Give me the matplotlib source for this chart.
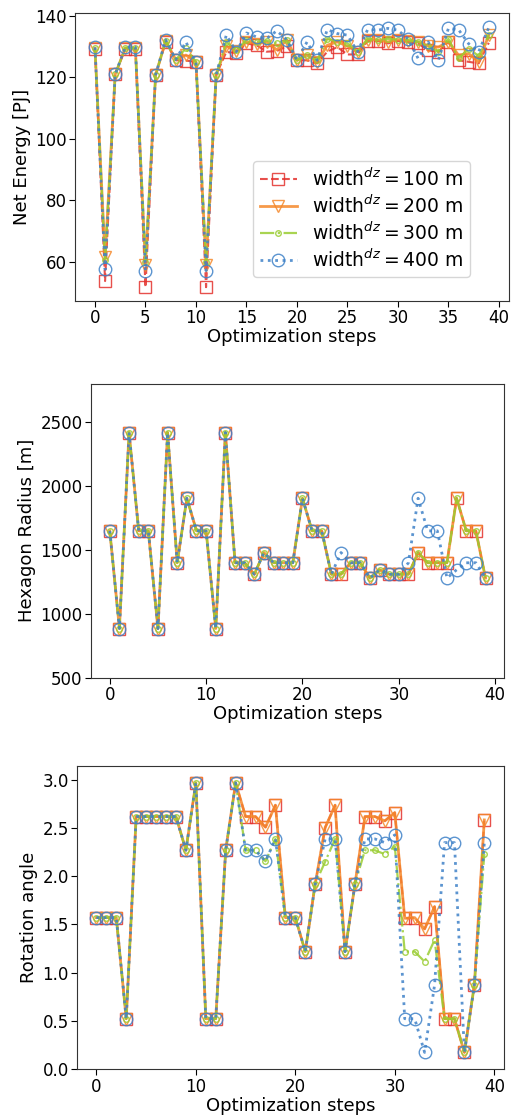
import matplotlib
matplotlib.use("Agg")
import matplotlib.pyplot as plt
import numpy as np

steps = list(range(40))
widths = [100, 200, 300, 400]

energy_100 = [129.2, 53.7, 121.0, 129.4, 129.4, 51.7, 120.8, 131.6, 125.6, 125.5,
              125.1, 51.7, 120.8, 128.3, 128.0, 131.1, 130.5, 128.4, 128.6, 130.2,
              125.6, 125.6, 124.6, 128.4, 129.9, 127.5, 127.5, 131.9, 131.9, 131.1,
              131.9, 131.6, 131.1, 128.8, 128.4, 131.6, 125.6, 125.1, 124.6, 131.3]
energy_200 = [129.5, 61.4, 121.0, 129.6, 129.6, 58.9, 120.8, 131.9, 125.8, 127.3,
              125.1, 58.9, 120.8, 130.2, 128.6, 131.6, 131.0, 131.6, 129.0, 132.2,
              125.6, 127.3, 125.1, 130.5, 131.6, 130.2, 128.4, 132.3, 132.2, 131.6,
              132.3, 132.0, 131.6, 130.2, 129.9, 131.6, 127.3, 127.8, 125.1, 133.8]
energy_300 = [129.5, 60.5, 121.0, 129.6, 129.6, 59.8, 120.8, 132.0, 125.8, 129.5,
              125.1, 59.8, 120.8, 131.6, 128.8, 132.3, 131.6, 132.0, 131.1, 132.2,
              125.6, 127.3, 125.6, 132.6, 131.6, 131.1, 128.4, 132.6, 132.2, 132.6,
              132.3, 132.2, 131.6, 130.2, 128.4, 132.6, 126.2, 129.4, 127.0, 133.8]
energy_400 = [129.8, 57.5, 121.0, 129.9, 129.9, 57.1, 120.8, 132.3, 125.8, 131.6,
              125.1, 57.1, 120.8, 133.8, 128.4, 134.5, 133.2, 132.7, 135.2, 132.3,
              125.6, 131.6, 125.6, 135.6, 134.3, 133.8, 128.4, 135.6, 135.4, 136.0,
              135.4, 132.6, 126.2, 131.6, 125.6, 136.0, 135.6, 131.0, 128.4, 136.3]

radius_100 = [1650, 885, 2420, 1650, 1650, 885, 2420, 1400, 1905, 1650,
              1650, 885, 2420, 1400, 1400, 1310, 1480, 1400, 1400, 1400,
              1905, 1650, 1650, 1310, 1310, 1400, 1400, 1280, 1345, 1310,
              1310, 1310, 1480, 1400, 1400, 1400, 1905, 1650, 1650, 1280]
radius_200 = list(radius_100)
radius_300 = list(radius_100)
radius_400 = [1650, 885, 2420, 1650, 1650, 885, 2420, 1400, 1905, 1650,
              1650, 885, 2420, 1400, 1400, 1310, 1480, 1400, 1400, 1400,
              1905, 1650, 1650, 1310, 1480, 1400, 1400, 1280, 1345, 1310,
              1310, 1400, 1905, 1650, 1650, 1280, 1345, 1400, 1400, 1280]

angle_100 = [1.571, 1.571, 1.571, 0.524, 2.618, 2.618, 2.618, 2.618, 2.618, 2.269,
             2.967, 0.524, 0.524, 2.269, 2.967, 2.618, 2.618, 2.508, 2.736, 1.571,
             1.571, 1.219, 1.920, 2.504, 2.736, 1.219, 1.920, 2.618, 2.618, 2.573,
             2.659, 1.564, 1.571, 1.454, 1.685, 0.524, 0.524, 0.175, 0.873, 2.583]
angle_200 = list(angle_100)
angle_300 = [1.571, 1.571, 1.571, 0.524, 2.618, 2.618, 2.618, 2.618, 2.618, 2.269,
             2.967, 0.524, 0.524, 2.269, 2.967, 2.269, 2.269, 2.155, 2.386, 1.571,
             1.571, 1.219, 1.920, 2.151, 2.386, 1.219, 1.920, 2.269, 2.269, 2.228,
             2.307, 1.219, 1.219, 1.115, 1.340, 0.524, 0.524, 0.175, 0.873, 2.230]
angle_400 = [1.571, 1.571, 1.571, 0.524, 2.618, 2.618, 2.618, 2.618, 2.618, 2.269,
             2.967, 0.524, 0.524, 2.269, 2.967, 2.269, 2.269, 2.155, 2.386, 1.571,
             1.571, 1.219, 1.920, 2.386, 2.386, 1.219, 1.920, 2.386, 2.386, 2.348,
             2.428, 0.524, 0.524, 0.175, 0.873, 2.348, 2.348, 0.175, 0.873, 2.348]

STYLES = [
    dict(color='#e3312d', ls='--', marker='s', ms=9, lw=1.5),
    dict(color='#f5882a', ls='-', marker='v', ms=8, lw=2.0),
    dict(color='#9acd32', ls='-.', marker='o', ms=4, lw=1.6),
    dict(color='#3f82c8', ls=':', marker='o', ms=9, lw=2.0),
]

W, H = 513, 1118


def px_axes(fig, left, top, right, bottom):
    return fig.add_axes([left / W, 1 - bottom / H, (right - left) / W, (bottom - top) / H])


def plot_series(ax, series, xticks):
    for w, ys, st in zip(widths, series, STYLES):
        ax.plot(steps, ys, color=st['color'], ls=st['ls'], lw=st['lw'],
                marker=st['marker'], ms=st['ms'], mfc='none', mec=st['color'],
                mew=1.0, alpha=0.85, label=rf'width$^{{dz}}={w}$ m')
    ax.set_xlabel("Optimization steps", fontsize=13, labelpad=1)
    ax.tick_params(labelsize=12, length=4.5, pad=1.5)
    ax.set_xticks(xticks)
    ax.set_xlim(-1.95, 40.95)
    for s in ax.spines.values():
        s.set_color('#333333')


fig = plt.figure(figsize=(W / 100, H / 100), dpi=100)
axes = [px_axes(fig, 75.3, 12.7, 508.5, 300.7),
        px_axes(fig, 91, 384, 504.3, 677.7),
        px_axes(fig, 77, 766, 503.7, 1069.3)]

plot_series(axes[0], [energy_100, energy_200, energy_300, energy_400], range(0, 41, 5))
axes[0].set_ylim(47.3, 141.1)
axes[0].set_yticks([60, 80, 100, 120, 140])
axes[0].set_ylabel("Net Energy [PJ]", fontsize=13, labelpad=3)
axes[0].legend(loc='lower right', bbox_to_anchor=(0.911, 0.082), borderaxespad=0,
               fontsize=13.5, handlelength=2.0, labelspacing=0.25, borderpad=0.35)

plot_series(axes[1], [radius_100, radius_200, radius_300, radius_400], range(0, 41, 10))
axes[1].set_ylim(500, 2800)
axes[1].set_yticks([500, 1000, 1500, 2000, 2500])
axes[1].set_ylabel("Hexagon Radius [m]", fontsize=13, labelpad=3)

plot_series(axes[2], [angle_100, angle_200, angle_300, angle_400], range(0, 41, 10))
axes[2].set_ylim(0, np.pi)
axes[2].set_yticks(np.arange(0, 3.01, 0.5))
axes[2].set_ylabel("Rotation angle", fontsize=13, labelpad=3)

fig.savefig("out.png", dpi=100)
